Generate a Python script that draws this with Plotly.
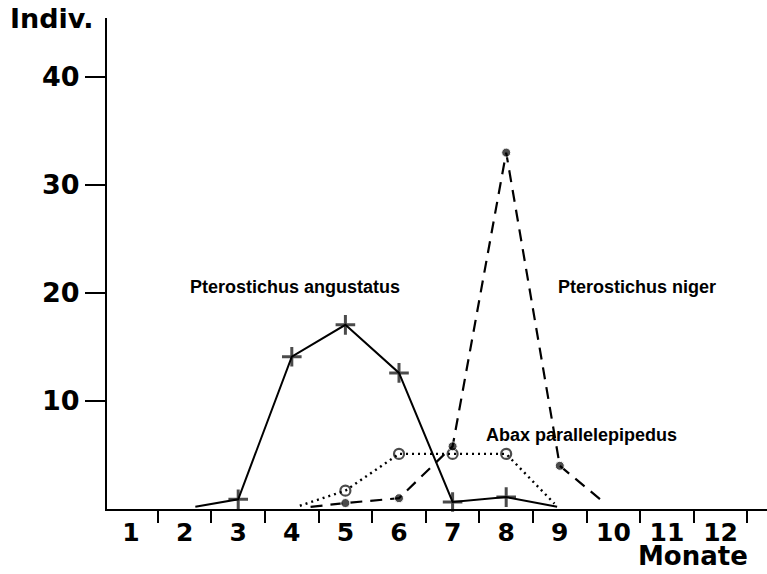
import plotly.graph_objects as go

# ---- data ----
months = list(range(1, 13))
month_labels = [str(m) for m in months]
y_ticks = [10, 20, 30, 40]

angustatus_x = [2.2, 3, 4, 5, 6, 7, 8, 8.95]
angustatus_y = [0.2, 0.9, 14.1, 17.05, 12.6, 0.65, 1.1, 0.2]

niger_x = [4.35, 5, 6, 7, 8, 9, 9.85]
niger_y = [0.2, 0.55, 1.0, 5.8, 33.0, 4.0, 0.5]

abax_x = [4.15, 5, 6, 7, 8, 8.9]
abax_y = [0.3, 1.7, 5.1, 5.1, 5.1, 0.5]

series_names = ["Pterostichus angustatus", "Pterostichus niger", "Abax parallelepipedus"]


def end_sizes(n, s):
    return [0] + [s] * (n - 2) + [0]


fig = go.Figure()
fig.add_trace(go.Scatter(
    x=angustatus_x, y=angustatus_y, mode="lines+markers",
    line=dict(color="black", width=2),
    marker=dict(symbol="cross-thin", size=end_sizes(len(angustatus_x), 14),
                color="black", line=dict(color="black", width=3)),
    showlegend=False, cliponaxis=False))
fig.add_trace(go.Scatter(
    x=abax_x, y=abax_y, mode="lines+markers",
    line=dict(color="black", width=2.4, dash="2px,4px"),
    marker=dict(symbol="circle-open", size=end_sizes(len(abax_x), 10),
                color="black", line=dict(color="black", width=2.2)),
    showlegend=False, cliponaxis=False))
fig.add_trace(go.Scatter(
    x=niger_x, y=niger_y, mode="lines+markers",
    line=dict(color="black", width=2.2, dash="12px,8px"),
    marker=dict(symbol="circle", size=end_sizes(len(niger_x), 9), color="black"),
    showlegend=False, cliponaxis=False))

bold = dict(family="DejaVu Sans", size=27, color="black", weight="bold")
xbold = dict(family="DejaVu Sans", size=25, color="black", weight="bold")
mbold = dict(family="DejaVu Sans", size=26, color="black", weight="bold")
lab = dict(family="Liberation Sans", size=18, color="black", weight="bold")

fig.update_layout(
    width=767, height=574,
    margin=dict(l=107, r=0, t=18, b=65, autoexpand=False),
    plot_bgcolor="white", paper_bgcolor="white",
    xaxis=dict(
        range=[0.552, 12.866], showgrid=False, zeroline=False, automargin=False,
        showline=True, linecolor="black", linewidth=2,
        tickmode="array", tickvals=months, ticktext=month_labels,
        ticks="", tickfont=xbold, ticklabelstandoff=0,
        minor=dict(tickvals=[m + 0.5 for m in months], ticks="outside",
                   ticklen=12, tickwidth=2, tickcolor="black", showgrid=False),
    ),
    yaxis=dict(
        range=[0, 45.46], showgrid=False, zeroline=False, automargin=False,
        showline=True, linecolor="black", linewidth=2,
        tickmode="array", tickvals=y_ticks, ticktext=[str(v) for v in y_ticks],
        ticks="outside", ticklen=20, tickwidth=2, tickcolor="black",
        tickfont=bold, ticklabelstandoff=0,
    ),
    annotations=[
        dict(text="Indiv.", xref="paper", yref="paper", x=-0.083, y=1.0,
             showarrow=False, font=bold, xanchor="center", yanchor="middle"),
        dict(text="Monate", xref="paper", yref="paper", x=0.888, y=-0.1303,
             showarrow=False, font=mbold, xanchor="center", yanchor="bottom"),
        dict(text=series_names[0], xref="x", yref="y", x=4.06, y=20.6,
             showarrow=False, font=lab, xanchor="center", yanchor="middle"),
        dict(text=series_names[1], xref="x", yref="y", x=10.44, y=20.6,
             showarrow=False, font=lab, xanchor="center", yanchor="middle"),
        dict(text=series_names[2], xref="x", yref="y", x=9.41, y=6.85,
             showarrow=False, font=lab, xanchor="center", yanchor="middle"),
    ],
)

fig.write_html("out.html", config={"displayModeBar": False},
               post_script="document.body.style.margin='0';document.body.style.overflow='hidden';")
